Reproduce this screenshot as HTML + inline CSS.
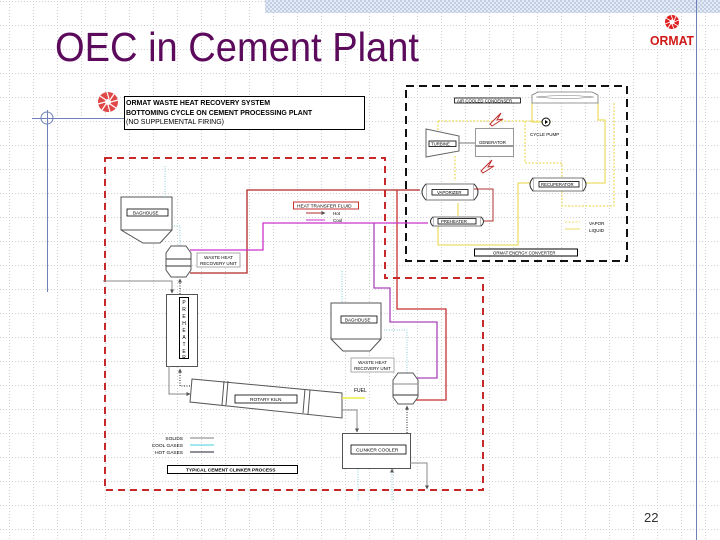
<!DOCTYPE html>
<html><head><meta charset="utf-8"><style>
html,body{margin:0;padding:0;background:#fff;}
svg{display:block;font-family:"Liberation Sans",Arial,sans-serif;}
</style></head><body>
<svg width="720" height="540" viewBox="0 0 720 540" xmlns="http://www.w3.org/2000/svg">
<defs>
<pattern id="grid" width="24" height="24" patternUnits="userSpaceOnUse" x="9" y="1">
<path d="M0 0.5H24M0.5 0V24" stroke="#cfcfcf" stroke-width="1" stroke-dasharray="1 2" fill="none"/>
</pattern>
<pattern id="hatch" width="4" height="4" patternUnits="userSpaceOnUse">
<rect width="4" height="4" fill="#e4eaf4"/><rect width="2" height="2" fill="#c2cee4"/><rect x="2" y="2" width="2" height="2" fill="#c2cee4"/>
</pattern>
<marker id="ah" markerWidth="4" markerHeight="4" refX="3.5" refY="2" orient="auto"><path d="M0,0L4,2L0,4z" fill="#555"/></marker>
</defs>
<rect width="720" height="540" fill="url(#grid)"/>
<rect x="265" y="0" width="455" height="13" fill="url(#hatch)"/>
<line x1="696.5" y1="0" x2="696.5" y2="540" stroke="#7080b8" stroke-width="1"/>
<line x1="32" y1="118.5" x2="125" y2="118.5" stroke="#7080b8"/>
<line x1="47.5" y1="110" x2="47.5" y2="292" stroke="#7080b8"/>
<circle cx="47" cy="118" r="6" fill="none" stroke="#7080b8"/>

<text x="55" y="61" font-size="41" fill="#5c0a5c" textLength="364" lengthAdjust="spacingAndGlyphs">OEC in Cement Plant</text>

<g transform="translate(672,22)" fill="#e02020">
<circle r="7"/><circle r="2.5" fill="#fff"/>
<path d="M-1 -7 L1 -2 M4 -6 L2 -1 M7 -2 L2 0 M6 4 L1 1 M2 7 L0 2 M-4 6 L-1 1 M-7 2 L-2 0 M-6 -4 L-1 -1" stroke="#fff" stroke-width="0.9"/>
</g>
<text x="650" y="45" font-size="13" font-weight="bold" fill="#d01818" textLength="44" lengthAdjust="spacingAndGlyphs">ORMAT</text>

<g transform="translate(108,102)" fill="#e04848">
<circle r="10"/><circle r="3" fill="#fff"/>
<path d="M-1 -10 L1 -3 M6 -8 L2 -2 M10 -2 L3 0 M8 6 L2 2 M2 10 L0 3 M-6 8 L-2 2 M-10 2 L-3 0 M-8 -6 L-2 -2" stroke="#fff" stroke-width="1.2"/>
</g>
<rect x="124.5" y="96.5" width="240" height="33" fill="#fff" stroke="#000"/>
<g font-size="7" font-weight="bold" fill="#000">
<text x="126" y="105">ORMAT WASTE HEAT RECOVERY SYSTEM</text>
<text x="126" y="115">BOTTOMING CYCLE ON CEMENT PROCESSING PLANT</text>
<text x="126" y="124" font-weight="normal">(NO SUPPLEMENTAL FIRING)</text>
</g>

<rect x="406" y="86" width="221" height="175" fill="none" stroke="#111" stroke-width="2" stroke-dasharray="8 5"/>
<path d="M105 158H385V278H483V490H105Z" fill="none" stroke="#c82828" stroke-width="2" stroke-dasharray="7 5"/>

<g fill="none" stroke="#eedd66" stroke-width="1.3">
<path d="M455 156V181 M438 121H540 M438 121V130 M525 121V163H562V178 M562 191V206H614V103" stroke-dasharray="2 1.5"/>
<path d="M598 103V120H605V183H585 M551 122H532V103 M530 183H518V245H438V226 M458 216V203"/>
</g>
<path d="M565 222H580" stroke="#eedd66" stroke-dasharray="2 1.5"/>
<path d="M565 229H580" stroke="#eedd66"/>
<text x="589" y="225" font-size="4.5">VAPOR</text>
<text x="589" y="232" font-size="4.5">LIQUID</text>
<rect x="454.5" y="98" width="66" height="5" fill="#fff" stroke="#000" stroke-width="0.8"/>
<text x="457" y="102.3" font-size="4.3">AIR COOLED CONDENSER</text>
<path d="M532 95 L538 92 H592 L598 95 V103 H532Z" fill="#fff" stroke="#777" stroke-width="0.8"/>
<path d="M536 97 Q565 94 594 97 Q565 100 536 97" fill="none" stroke="#777" stroke-width="0.6"/>
<circle cx="546" cy="122" r="4" fill="#fff" stroke="#000"/><path d="M545 120L548 122L545 124Z"/>
<text x="530" y="136" font-size="4.5">CYCLE PUMP</text>
<path d="M426 129L459 136V151L426 157Z" fill="#fff" stroke="#666"/>
<rect x="429" y="141" width="27" height="5.5" fill="#fff" stroke="#000" stroke-width="0.8"/>
<text x="431" y="145.5" font-size="4.3">TURBINE</text>
<line x1="459" y1="143" x2="475" y2="143" stroke="#777"/>
<rect x="475.5" y="128.5" width="38" height="28" fill="#fff" stroke="#999"/>
<line x1="476" y1="146" x2="513" y2="146" stroke="#333"/>
<text x="479" y="144" font-size="4.3">GENERATOR</text>
<path d="M490 124L501 113L497 120L503 119L492 126Z" fill="#fff" stroke="#c03030" stroke-width="1"/>
<path d="M481 171L492 160L488 167L494 166L483 173Z" fill="#fff" stroke="#c03030" stroke-width="1"/>
<rect x="426" y="184" width="48" height="16" fill="#fff" stroke="#777"/>
<path d="M426 184Q418 192 426 200M474 184Q482 192 474 200" fill="#fff" stroke="#333"/>
<rect x="432" y="189.5" width="36" height="5.5" fill="#fff" stroke="#000" stroke-width="0.8"/>
<text x="437" y="194" font-size="4.3">VAPORIZER</text>
<rect x="433" y="217" width="48" height="9" fill="#fff" stroke="#777"/>
<path d="M433 217Q428 221.5 433 226M481 217Q486 221.5 481 226" fill="#fff" stroke="#333"/>
<rect x="438" y="218.5" width="38" height="5.5" fill="#fff" stroke="#000" stroke-width="0.8"/>
<text x="441" y="223" font-size="4.3">PREHEATER</text>
<rect x="533" y="178" width="50" height="13" fill="#fff" stroke="#777"/>
<path d="M533 178Q527 184.5 533 191M583 178Q589 184.5 583 191" fill="#fff" stroke="#333"/>
<rect x="539" y="181.5" width="40" height="5.5" fill="#fff" stroke="#000" stroke-width="0.8"/>
<text x="541" y="186" font-size="4.3">RECUPERATOR</text>
<path d="M474 189H493V221H484" fill="none" stroke="#b03030"/>
<rect x="474.5" y="249" width="103" height="7" fill="#fff" stroke="#000"/>
<text x="493" y="254.5" font-size="4.3">ORMAT ENERGY CONVERTER</text>

<g fill="none" stroke-width="1.3">
<path d="M190 273H247V190H420" stroke="#b02828"/>
<path d="M397 190V309H446V400H414" stroke="#c83030"/>
<path d="M190 250H263V223H428" stroke="#cc33cc"/>
<path d="M374 223V288H390V322H437V378H416" stroke="#aa44bb"/>
</g>
<rect x="293.5" y="202" width="65" height="7" fill="#fff" stroke="#c83030"/>
<text x="297" y="207.5" font-size="4.8">HEAT TRANSFER FLUID</text>
<path d="M306 213H325" stroke="#b02828" marker-end="url(#ah)"/>
<path d="M325 220H306" stroke="#cc33cc"/>
<text x="333" y="215" font-size="4.5">Hot</text>
<text x="333" y="222" font-size="4.5">Cool</text>

<path d="M121 197H172V230L160 243H143L121 230Z" fill="#fff" stroke="#555"/>
<line x1="121" y1="230" x2="172" y2="230" stroke="#555"/>
<rect x="127" y="209" width="41" height="7" fill="#fff" stroke="#000" stroke-width="0.8"/>
<text x="133" y="214.5" font-size="4.5">BAGHOUSE</text>
<path d="M165 166V197" stroke="#88ccdd" stroke-dasharray="1 1.5"/>
<path d="M180 246V226H174" stroke="#88ccdd" stroke-dasharray="1 1.5" fill="none"/>
<path d="M171 246H186L191 253V270L186 277H171L166 270V253Z" fill="#fff" stroke="#555"/>
<line x1="166" y1="259" x2="191" y2="259" stroke="#333"/>
<line x1="166" y1="266" x2="191" y2="266" stroke="#333"/>
<rect x="197" y="253" width="43" height="14" fill="#fff" stroke="#aaa"/>
<text x="218.5" y="259" font-size="4.5" text-anchor="middle">WASTE HEAT</text>
<text x="218.5" y="265" font-size="4.5" text-anchor="middle">RECOVERY UNIT</text>
<path d="M180 294V279" stroke="#223" stroke-dasharray="1 1.5" marker-end="url(#ah)"/>
<rect x="166.5" y="294.5" width="31" height="72" fill="#fff" stroke="#555"/>
<rect x="179.5" y="297.5" width="9" height="61" fill="#fff" stroke="#000"/>
<g font-size="5" text-anchor="middle"><text x="184" y="304">P</text><text x="184" y="311">R</text><text x="184" y="318">E</text><text x="184" y="325">H</text><text x="184" y="332">E</text><text x="184" y="339">A</text><text x="184" y="346">T</text><text x="184" y="353">E</text><text x="184" y="359">R</text></g>
<path d="M103 281H172V293" stroke="#888" fill="none" marker-end="url(#ah)"/>
<path d="M169 366V394H190" stroke="#888" fill="none" marker-end="url(#ah)"/>
<path d="M190 386H180V369" stroke="#223" stroke-dasharray="1 1.5" fill="none" marker-end="url(#ah)"/>
<path d="M192 379L342 393V418L190 402Z" fill="#fff" stroke="#555"/>
<path d="M224 381L222 405M228 381L226 405M305 389L303 413M310 390L308 414" stroke="#555"/>
<rect x="235" y="395" width="62" height="8" fill="#fff" stroke="#000" stroke-width="0.8"/>
<text x="250" y="401" font-size="4.8">ROTARY KILN</text>
<path d="M342 398H365" stroke="#eeee44" stroke-width="1.5"/>
<text x="354" y="392" font-size="5">FUEL</text>
<path d="M342 410H357V432" stroke="#888" fill="none" marker-end="url(#ah)"/>
<path d="M331 303H381V339L370 351H343L331 339Z" fill="#fff" stroke="#555"/>
<line x1="331" y1="339" x2="381" y2="339" stroke="#555"/>
<rect x="341" y="316" width="36" height="7" fill="#fff" stroke="#000" stroke-width="0.8"/>
<text x="345" y="321.5" font-size="4.5">BAGHOUSE</text>
<path d="M342 302V270" stroke="#88ccdd" stroke-dasharray="1 1.5"/>
<path d="M407 373V330H383" stroke="#88ccdd" stroke-dasharray="1 1.5" fill="none"/>
<rect x="351" y="358" width="43" height="14" fill="#fff" stroke="#aaa"/>
<text x="372.5" y="364" font-size="4.5" text-anchor="middle">WASTE HEAT</text>
<text x="372.5" y="370" font-size="4.5" text-anchor="middle">RECOVERY UNIT</text>
<path d="M398 373H413L418 380V397L413 404H398L393 397V380Z" fill="#fff" stroke="#555"/>
<line x1="393" y1="384" x2="418" y2="384" stroke="#888"/>
<line x1="393" y1="395" x2="418" y2="395" stroke="#333"/>
<path d="M407 433V406" stroke="#223" stroke-dasharray="1 1.5" marker-end="url(#ah)"/>
<rect x="342.5" y="433.5" width="68" height="35" fill="#fff" stroke="#555"/>
<rect x="351" y="445" width="55" height="9" fill="#fff" stroke="#000" stroke-width="0.8"/>
<text x="356" y="451.5" font-size="4.8">CLINKER COOLER</text>
<path d="M410 463H427V489" stroke="#888" fill="none" marker-end="url(#ah)"/>
<path d="M358 500V469M392 500V469" stroke="#88ccdd" stroke-dasharray="1 1.5" marker-end="url(#ah)"/>
<g font-size="4.8" text-anchor="end"><text x="183" y="440">SOLIDS</text><text x="183" y="447">COOL GASES</text><text x="183" y="454">HOT GASES</text></g>
<path d="M190 438H214" stroke="#999" stroke-width="1.3"/>
<path d="M190 445H214" stroke="#44ccdd" stroke-width="1"/>
<path d="M190 452H214" stroke="#223" stroke-width="1"/>
<rect x="167.5" y="465.5" width="130" height="8" fill="#fff" stroke="#000"/>
<text x="186" y="471.5" font-size="4.8" font-weight="bold">TYPICAL CEMENT CLINKER PROCESS</text>

<text x="644" y="522" font-size="13" fill="#333">22</text>
</svg>
</body></html>
